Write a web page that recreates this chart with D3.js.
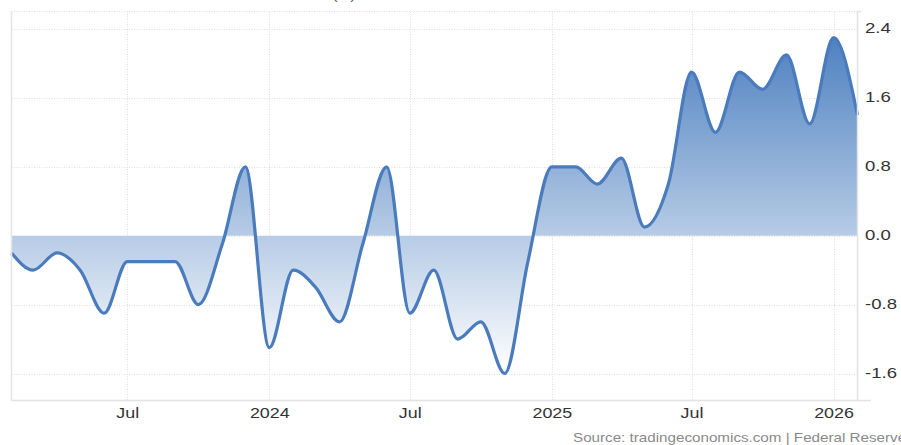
<!DOCTYPE html>
<html>
<head>
<meta charset="utf-8">
<script src="https://cdn.jsdelivr.net/npm/d3@7"></script>
<style>
    body { margin: 0; background: #fff; }
    svg { display: block; font-family: "Liberation Sans", Arial, sans-serif; }
</style>
</head>
<body>
<svg id="chart" width="901" height="445"></svg>
<script>
// Monthly readings, Feb 2023 - Feb 2026
const months = [
    "2023-02-01", "2023-03-01", "2023-04-01", "2023-05-01", "2023-06-01", "2023-07-01",
    "2023-08-01", "2023-09-01", "2023-10-01", "2023-11-01", "2023-12-01", "2024-01-01",
    "2024-02-01", "2024-03-01", "2024-04-01", "2024-05-01", "2024-06-01", "2024-07-01",
    "2024-08-01", "2024-09-01", "2024-10-01", "2024-11-01", "2024-12-01", "2025-01-01",
    "2025-02-01", "2025-03-01", "2025-04-01", "2025-05-01", "2025-06-01", "2025-07-01",
    "2025-08-01", "2025-09-01", "2025-10-01", "2025-11-01", "2025-12-01", "2026-01-01",
    "2026-02-01"
];
const values = [
    -0.2, -0.4, -0.2, -0.4, -0.9, -0.3,
    -0.3, -0.3, -0.8, -0.1, 0.8, -1.3,
    -0.4, -0.6, -1.0, -0.1, 0.8, -0.9,
    -0.4, -1.2, -1.0, -1.6, -0.3, 0.8,
    0.8, 0.6, 0.9, 0.1, 0.6, 1.9,
    1.2, 1.9, 1.7, 2.1, 1.3, 2.3,
    1.4
];

// Axis ticks
const xTickDates = ["2023-07-01", "2024-01-01", "2024-07-01", "2025-01-01", "2025-07-01", "2026-01-01"];
const xTickLabels = ["Jul", "2024", "Jul", "2025", "Jul", "2026"];
const yTicks = [-1.6, -0.8, 0.0, 0.8, 1.6, 2.4];

const parse = d3.timeParse("%Y-%m-%d");
const data = months.map((m, i) => ({ date: parse(m), value: values[i] }));

// Plot frame
const plot = { left: 11.5, right: 857.5, top: 11.5, bottom: 400.5 };
const stretch = 1.28; // text in the picture is drawn wide
const lineColor = "#4a7bbd";
const gridColor = "#dedede";
const frameColor = "#e3e3e3";

const svg = d3.select("#chart");

// Scales
const x = d3.scaleTime()
    .domain(d3.extent(data, d => d.date))
    .range([plot.left, plot.right]);

const y = d3.scaleLinear()
    .domain([-1.6, 2.4])
    .range([373.5, 29]);

// Gradient for the area (top blue fading to white)
const defs = svg.append("defs");
const grad = defs.append("linearGradient")
    .attr("id", "areaFill")
    .attr("gradientUnits", "userSpaceOnUse")
    .attr("x1", 0).attr("x2", 0)
    .attr("y1", y(2.4)).attr("y2", y(-1.6));
grad.append("stop").attr("offset", 0).attr("stop-color", "#4a7ebf");
grad.append("stop").attr("offset", 1).attr("stop-color", "#ffffff");

// Grid lines
const grid = svg.append("g").attr("class", "grid");

grid.selectAll(".hgrid")
    .data(yTicks)
    .enter()
    .append("line")
    .attr("x1", plot.left)
    .attr("x2", plot.right)
    .attr("y1", d => Math.round(y(d)) + 0.5)
    .attr("y2", d => Math.round(y(d)) + 0.5)
    .attr("stroke", gridColor)
    .attr("stroke-dasharray", "1,1.5");

grid.selectAll(".vgrid")
    .data(xTickDates.map(parse))
    .enter()
    .append("line")
    .attr("x1", d => Math.round(x(d)) + 0.5)
    .attr("x2", d => Math.round(x(d)) + 0.5)
    .attr("y1", plot.top)
    .attr("y2", plot.bottom)
    .attr("stroke", gridColor)
    .attr("stroke-dasharray", "1,1.5");

// top border (dotted)
grid.append("line")
    .attr("x1", plot.left).attr("x2", plot.right)
    .attr("y1", plot.top).attr("y2", plot.top)
    .attr("stroke", gridColor)
    .attr("stroke-dasharray", "1,1.5");

// Area + line
const area = d3.area()
    .x(d => x(d.date))
    .y0(y(0))
    .y1(d => y(d.value))
    .curve(d3.curveMonotoneX);

const line = d3.line()
    .x(d => x(d.date))
    .y(d => y(d.value))
    .curve(d3.curveMonotoneX);

svg.append("path")
    .datum(data)
    .attr("d", area)
    .attr("fill", "url(#areaFill)");

svg.append("path")
    .datum(data)
    .attr("d", line)
    .attr("fill", "none")
    .attr("stroke", lineColor)
    .attr("stroke-width", 3.2)
    .attr("stroke-linejoin", "round");

// Frame lines
svg.append("line")
    .attr("x1", plot.left).attr("x2", plot.left)
    .attr("y1", plot.top).attr("y2", plot.bottom)
    .attr("stroke", frameColor).attr("stroke-width", 1.5);

svg.append("line")
    .attr("x1", plot.left).attr("x2", 871)
    .attr("y1", plot.bottom).attr("y2", plot.bottom)
    .attr("stroke", frameColor).attr("stroke-width", 1.5);

svg.append("path")
    .attr("d", `M${plot.right},${plot.bottom}V${plot.top}H${plot.right + 4}`)
    .attr("fill", "none")
    .attr("stroke", frameColor).attr("stroke-width", 1.5);

// Right axis
const yAxis = d3.axisRight(y)
    .tickValues(yTicks)
    .tickSize(0)
    .tickFormat(d => d.toFixed(1));

const yAxisG = svg.append("g")
    .attr("transform", `translate(${plot.right},0)`)
    .call(yAxis);
yAxisG.select(".domain").remove();
yAxisG.selectAll("text")
    .attr("x", 7.5 / stretch)
    .attr("dy", "0.25em")
    .attr("transform", `scale(${stretch},1)`)
    .attr("fill", "#333")
    .attr("font-size", "14.5px")
    .attr("font-family", "Liberation Sans, Arial, sans-serif");

// Bottom axis
const xAxis = d3.axisBottom(x)
    .tickValues(xTickDates.map(parse))
    .tickSize(0)
    .tickPadding(8)
    .tickFormat((d, i) => xTickLabels[i]);

const xAxisG = svg.append("g")
    .attr("transform", `translate(0,${plot.bottom})`)
    .call(xAxis);
xAxisG.select(".domain").remove();
xAxisG.selectAll("text")
    .attr("transform", `scale(${stretch},1)`)
    .attr("fill", "#333")
    .attr("font-size", "14px")
    .attr("font-family", "Liberation Sans, Arial, sans-serif");

// Title, mostly cut off at the top edge
svg.append("text")
    .attr("transform", `translate(344,0) scale(${stretch},1)`)
    .attr("text-anchor", "middle")
    .attr("font-size", "11px")
    .attr("fill", "#444")
    .text("(%)");

// Source note
svg.append("text")
    .attr("transform", `translate(573,441.5) scale(1.17,1)`)
    .attr("font-size", "13px")
    .attr("fill", "#8a8a8a")
    .text("Source: tradingeconomics.com | Federal Reserve");
</script>
</body>
</html>
